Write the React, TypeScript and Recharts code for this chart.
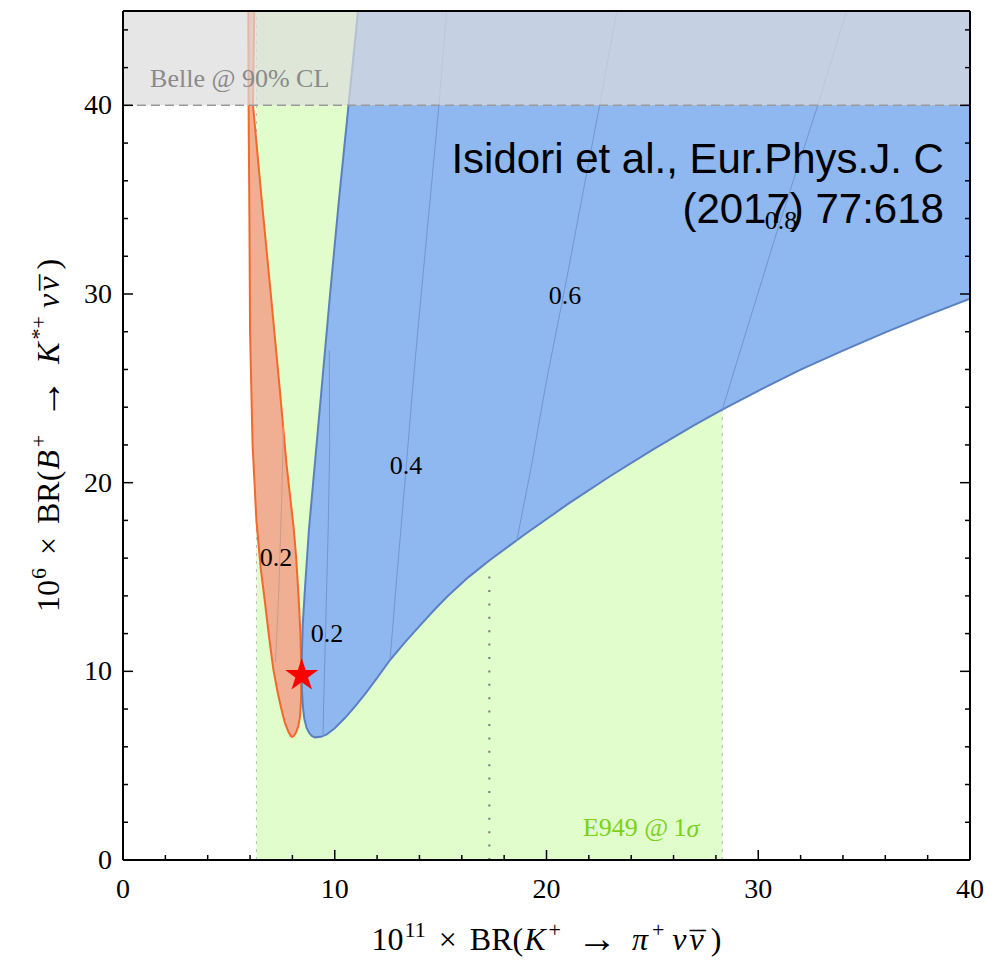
import { ScatterChart, Scatter, XAxis, YAxis, ReferenceArea, ReferenceLine, Symbols } from 'recharts'

const SERIF = '"Liberation Serif", "DejaVu Serif", serif'
const SANS = '"Liberation Sans", Arial, sans-serif'

type Pt = { x: number; y: number }
type Note = { x: number; y: number; text: string }

// ticks every 2 units, labelled every 10
const xTicks = [0, 2, 4, 6, 8, 10, 12, 14, 16, 18, 20, 22, 24, 26, 28, 30, 32, 34, 36, 38, 40]
const yTicks = [0, 2, 4, 6, 8, 10, 12, 14, 16, 18, 20, 22, 24, 26, 28, 30, 32, 34, 36, 38, 40, 42, 44]

// E949 1 sigma band on BR(K+ -> pi+ nu nubar), central value, Belle 90% CL bound
const e949Band = [6.3, 28.3]
const e949Central = 17.3
const e949CentralTop = 15.2
const belleLimit = 40

// red allowed region (left edge down, right edge back up)
const redRegion: Pt[] = [
  { x: 5.92, y: 45 }, { x: 5.93, y: 40 }, { x: 5.97, y: 34 }, { x: 6.0, y: 28 },
  { x: 6.12, y: 22 }, { x: 6.3, y: 18 }, { x: 6.5, y: 15.5 }, { x: 6.71, y: 13.6 },
  { x: 6.9, y: 11.8 }, { x: 7.1, y: 10.1 }, { x: 7.3, y: 8.9 }, { x: 7.49, y: 7.95 },
  { x: 7.65, y: 7.25 }, { x: 7.81, y: 6.8 }, { x: 7.92, y: 6.58 }, { x: 7.98, y: 6.53 },
  { x: 8.06, y: 6.56 }, { x: 8.17, y: 6.75 }, { x: 8.28, y: 7.1 }, { x: 8.36, y: 7.6 },
  { x: 8.41, y: 8.5 }, { x: 8.42, y: 10.0 }, { x: 8.38, y: 12.0 }, { x: 8.3, y: 13.8 },
  { x: 8.18, y: 16 }, { x: 8.06, y: 17.6 }, { x: 7.92, y: 19 }, { x: 7.72, y: 21 },
  { x: 7.4, y: 25 }, { x: 6.98, y: 30 }, { x: 6.55, y: 35 }, { x: 6.14, y: 40 }, { x: 6.2, y: 45 },
]

// lower/left edge of the blue region, from the top of the frame to x = 40
const blueEdge: Pt[] = [
  { x: 11.1, y: 45 }, { x: 10.65, y: 40 }, { x: 10.2, y: 35 }, { x: 9.78, y: 30 },
  { x: 9.38, y: 25 }, { x: 9.02, y: 20.5 }, { x: 8.78, y: 17.5 }, { x: 8.6, y: 14.5 },
  { x: 8.49, y: 12.5 }, { x: 8.45, y: 11 }, { x: 8.44, y: 10 }, { x: 8.45, y: 9 },
  { x: 8.49, y: 8.2 }, { x: 8.56, y: 7.5 }, { x: 8.67, y: 7.0 }, { x: 8.8, y: 6.72 },
  { x: 8.93, y: 6.56 }, { x: 9.07, y: 6.5 }, { x: 9.35, y: 6.53 }, { x: 9.62, y: 6.66 },
  { x: 10.0, y: 6.98 }, { x: 10.5, y: 7.55 }, { x: 11.0, y: 8.2 }, { x: 11.5, y: 8.9 },
  { x: 12.0, y: 9.65 }, { x: 12.61, y: 10.6 }, { x: 13.3, y: 11.52 }, { x: 14, y: 12.4 },
  { x: 14.65, y: 13.2 }, { x: 15.29, y: 13.94 }, { x: 16.3, y: 14.98 }, { x: 17.33, y: 15.9 },
  { x: 19, y: 17.28 }, { x: 21, y: 18.86 }, { x: 23, y: 20.34 }, { x: 25, y: 21.74 },
  { x: 27, y: 23.06 }, { x: 28.3, y: 23.87 }, { x: 30, y: 24.87 }, { x: 32, y: 25.99 },
  { x: 34, y: 27.0 }, { x: 36, y: 27.97 }, { x: 38, y: 28.88 }, { x: 40, y: 29.75 },
]
const blueCorner: Pt[] = [{ x: 40, y: 45 }]

// contour lines inside the regions
const contourRed02: Pt[] = [{ x: 7.58, y: 23 }, { x: 7.49, y: 19 }, { x: 7.35, y: 14 }, { x: 7.2, y: 10.5 }]
const contourBlue02: Pt[] = [
  { x: 9.45, y: 6.58 }, { x: 9.47, y: 8 }, { x: 9.54, y: 11 }, { x: 9.62, y: 14.5 },
  { x: 9.7, y: 18 }, { x: 9.76, y: 22 }, { x: 9.74, y: 27 },
]
const contour04: Pt[] = [
  { x: 15.28, y: 45 }, { x: 14.92, y: 40 }, { x: 14.42, y: 34 }, { x: 14.0, y: 29 },
  { x: 13.71, y: 25.4 }, { x: 13.32, y: 20.1 }, { x: 12.93, y: 15 }, { x: 12.61, y: 10.6 },
]
const contour06: Pt[] = [
  { x: 23.32, y: 45 }, { x: 22.51, y: 40 }, { x: 21.66, y: 35 }, { x: 20.97, y: 30.9 },
  { x: 20.0, y: 25.4 }, { x: 19.25, y: 20.66 }, { x: 18.59, y: 16.9 },
]
const contour08: Pt[] = [
  { x: 34.17, y: 45 }, { x: 32.81, y: 40 }, { x: 31.0, y: 33.73 }, { x: 29.74, y: 29.14 }, { x: 28.3, y: 23.87 },
]

const contourLabels: Note[] = [
  { x: 7.23, y: 16.05, text: '0.2' },
  { x: 9.63, y: 12.03, text: '0.2' },
  { x: 13.36, y: 20.93, text: '0.4' },
  { x: 20.87, y: 29.93, text: '0.6' },
  { x: 31.07, y: 33.9, text: '0.8' },
]
const belleLabel: Note[] = [{ x: 1.28, y: 41.4, text: 'Belle @ 90% CL' }]
const e949Label: Note[] = [{ x: 21.72, y: 1.7, text: 'E949 @\u20091' }]
const citation: Note[] = [
  { x: 38.77, y: 36.4, text: 'Isidori et al., Eur.Phys.J. C' },
  { x: 38.77, y: 33.75, text: '(2017) 77:618' },
]
const smPoint: Pt[] = [{ x: 8.44, y: 9.78 }]

const BLUE = '#8fb7f0'
const BLUE_EDGE = '#5b80c2'
const RED = '#f0ae93'
const RED_EDGE = '#f2692c'
const GREEN = '#e1fdcb'

const noPoint = () => null

function BottomTick({ x, y, payload }: any) {
  const major = payload.value % 10 === 0
  return (
    <g>
      <line x1={x} x2={x} y1={y} y2={y - (major ? 10 : 5)} stroke="#000" strokeWidth={1.5} />
      {major && (
        <text x={x} y={y + 38} textAnchor="middle" fontFamily={SERIF} fontSize={28} fill="#000">
          {payload.value}
        </text>
      )}
    </g>
  )
}

function TopTick({ x, y, payload }: any) {
  const major = payload.value % 10 === 0
  return <line x1={x} x2={x} y1={y} y2={y + (major ? 10 : 5)} stroke="#000" strokeWidth={1.5} />
}

function LeftTick({ x, y, payload }: any) {
  const major = payload.value % 10 === 0
  return (
    <g>
      <line x1={x} x2={x + (major ? 10 : 5)} y1={y} y2={y} stroke="#000" strokeWidth={1.5} />
      {major && (
        <text x={x - 11} y={y + 9} textAnchor="end" fontFamily={SERIF} fontSize={28} fill="#000">
          {payload.value}
        </text>
      )}
    </g>
  )
}

function RightTick({ x, y, payload }: any) {
  const major = payload.value % 10 === 0
  return <line x1={x} x2={x - (major ? 10 : 5)} y1={y} y2={y} stroke="#000" strokeWidth={1.5} />
}

// math-style axis titles; superscripts raised by SUP px
const SUP = 13

// "ν ν̄" with the bar set by hand over the second ν
function NuNuBar() {
  return (
    <>
      <tspan dx={8} dy={SUP} fontStyle="italic">ν</tspan>
      <tspan dx={3} fontStyle="italic">ν</tspan>
      <tspan dx={-14} dy={4}>{'\u00af'}</tspan>
      <tspan dx={5} dy={-4}>)</tspan>
    </>
  )
}

function XTitle({ viewBox }: any) {
  const cx = viewBox.x + viewBox.width / 2
  return (
    <text x={cx} y={viewBox.y + 90} textAnchor="middle" fontFamily={SERIF} fontSize={32} fill="#000">
      10<tspan dx={1} dy={-SUP} fontSize={22}>11</tspan>
      <tspan dx={13} dy={SUP}>×</tspan>
      <tspan dx={13}>BR(</tspan>
      <tspan dx={1} fontStyle="italic">K</tspan>
      <tspan dx={3} dy={-SUP} fontSize={22}>+</tspan>
      <tspan dx={16} dy={SUP + 2} fontSize={40}>→</tspan>
      <tspan dx={15} dy={-2} fontStyle="italic">π</tspan>
      <tspan dx={4} dy={-SUP} fontSize={22}>+</tspan>
      <NuNuBar />
    </text>
  )
}

function YTitle({ viewBox }: any) {
  const x0 = viewBox.x - 4
  const y0 = viewBox.y + viewBox.height / 2
  return (
    <text
      x={x0}
      y={y0}
      transform={`rotate(-90, ${x0}, ${y0})`}
      textAnchor="middle"
      fontFamily={SERIF}
      fontSize={32}
      fill="#000"
    >
      10<tspan dx={1} dy={-SUP} fontSize={22}>6</tspan>
      <tspan dx={13} dy={SUP}>×</tspan>
      <tspan dx={13}>BR(</tspan>
      <tspan dx={1} fontStyle="italic">B</tspan>
      <tspan dx={3} dy={-SUP} fontSize={22}>+</tspan>
      <tspan dx={16} dy={SUP + 2} fontSize={40}>→</tspan>
      <tspan dx={15} dy={-2} fontStyle="italic">K</tspan>
      <tspan dx={3} dy={-SUP} fontSize={22}>*+</tspan>
      <NuNuBar />
    </text>
  )
}

const noteShape = (style: any) => (p: any) => (
  <text x={p.cx} y={p.cy} {...style}>
    {p.payload.text}
  </text>
)

const e949Shape = (p: any) => (
  <text x={p.cx} y={p.cy} dominantBaseline="central" fontFamily={SERIF} fontSize={26} fill="#7cd11a">
    {p.payload.text}
    <tspan fontStyle="italic">σ</tspan>
  </text>
)

const starShape = (p: any) => <Symbols type="star" size={340} cx={p.cx} cy={p.cy} fill="#ff0000" />

function line(stroke: string, width = 1) {
  return { stroke, strokeWidth: width, fill: 'none' }
}

export default function App() {
  return (
    <div style={{ position: 'absolute', left: 0, top: 0, background: '#fff' }}>
      <ScatterChart width={999} height={965} margin={{ top: 10, right: 28, bottom: 45, left: 63 }}>
        <ReferenceArea
          x1={e949Band[0]} x2={e949Band[1]} y1={0} y2={45}
          fill={GREEN} fillOpacity={1} stroke="none" zIndex={10}
        />
        <ReferenceLine x={e949Band[0]} stroke="#b8b8b8" strokeDasharray="3 5" zIndex={11} />
        <ReferenceLine x={e949Band[1]} stroke="#b8b8b8" strokeDasharray="3 5" zIndex={11} />
        <ReferenceLine
          segment={[{ x: e949Central, y: 0 }, { x: e949Central, y: e949CentralTop }]}
          stroke="#777" strokeWidth={2} strokeDasharray="2 11.4" zIndex={12}
        />

        <Scatter data={redRegion} shape={noPoint} line={{ fill: RED, stroke: RED_EDGE, strokeWidth: 2 }}
          lineJointType="linearClosed" isAnimationActive={false} zIndex={20} />
        <Scatter data={[...blueEdge, ...blueCorner]} shape={noPoint} line={{ fill: BLUE, stroke: 'none' }}
          lineJointType="linearClosed" isAnimationActive={false} zIndex={21} />
        <Scatter data={blueEdge} shape={noPoint} line={line(BLUE_EDGE, 2)}
          lineJointType="linear" isAnimationActive={false} zIndex={22} />

        <Scatter data={contourRed02} shape={noPoint} line={line('#c99c8c')} isAnimationActive={false} zIndex={23} />
        <Scatter data={contourBlue02} shape={noPoint} line={line('#7396cf')} isAnimationActive={false} zIndex={23} />
        <Scatter data={contour04} shape={noPoint} line={line('#7396cf')} isAnimationActive={false} zIndex={23} />
        <Scatter data={contour06} shape={noPoint} line={line('#7396cf')} isAnimationActive={false} zIndex={23} />
        <Scatter data={contour08} shape={noPoint} line={line('#7396cf')} isAnimationActive={false} zIndex={23} />

        <Scatter
          data={contourLabels}
          shape={noteShape({ textAnchor: 'middle', dominantBaseline: 'central', fontFamily: SERIF, fontSize: 26, fill: '#000' })}
          isAnimationActive={false} zIndex={24}
        />
        <Scatter data={smPoint} shape={starShape} isAnimationActive={false} zIndex={25} />

        <ReferenceArea
          x1={0} x2={40} y1={belleLimit} y2={45}
          fill="rgb(220,220,220)" fillOpacity={0.7} stroke="none" zIndex={30}
        />
        <ReferenceLine y={belleLimit} stroke="#9a9a9a" strokeWidth={1.5} strokeDasharray="9 5" zIndex={31} />
        <Scatter
          data={belleLabel}
          shape={noteShape({ dominantBaseline: 'central', fontFamily: SERIF, fontSize: 26, fill: '#8a8a8a' })}
          isAnimationActive={false} zIndex={32}
        />
        <Scatter data={e949Label} shape={e949Shape} isAnimationActive={false} zIndex={33} />
        <Scatter
          data={citation}
          shape={noteShape({ textAnchor: 'end', fontFamily: SANS, fontSize: 42, fill: '#000' })}
          isAnimationActive={false} zIndex={34}
        />

        <XAxis
          dataKey="x" type="number" domain={[0, 40]} ticks={xTicks} interval={0} allowDataOverflow
          height={60} tickSize={0} tickMargin={0} tickLine={false} tick={<BottomTick />}
          axisLine={{ stroke: '#000', strokeWidth: 2 }} label={<XTitle />} zIndex={40}
        />
        <XAxis
          xAxisId="top" orientation="top" type="number" domain={[0, 40]} ticks={xTicks} interval={0}
          allowDataOverflow height={1} tickSize={0} tickMargin={0} tickLine={false} tick={<TopTick />}
          axisLine={{ stroke: '#000', strokeWidth: 2 }} zIndex={40}
        />
        <YAxis
          dataKey="y" type="number" domain={[0, 45]} ticks={yTicks} interval={0} allowDataOverflow
          width={60} tickSize={0} tickMargin={0} tickLine={false} tick={<LeftTick />}
          axisLine={{ stroke: '#000', strokeWidth: 2 }} label={<YTitle />} zIndex={40}
        />
        <YAxis
          yAxisId="right" orientation="right" type="number" domain={[0, 45]} ticks={yTicks} interval={0}
          allowDataOverflow width={1} tickSize={0} tickMargin={0} tickLine={false} tick={<RightTick />}
          axisLine={{ stroke: '#000', strokeWidth: 2 }} zIndex={40}
        />
      </ScatterChart>
    </div>
  )
}
